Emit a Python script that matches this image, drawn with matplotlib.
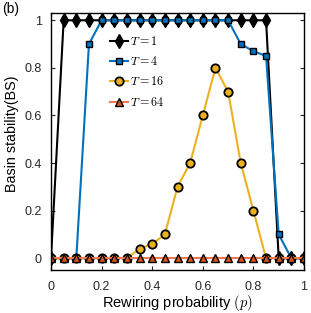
import numpy as np
import matplotlib.pyplot as plt

plt.rcParams['font.family'] = ['Liberation Sans', 'DejaVu Sans']
plt.rcParams['mathtext.fontset'] = 'cm'

# rewiring probability p = 0, 0.05, ..., 1
p = [0.0, 0.05, 0.1, 0.15, 0.2, 0.25, 0.3, 0.35, 0.4, 0.45, 0.5,
     0.55, 0.6, 0.65, 0.7, 0.75, 0.8, 0.85, 0.9, 0.95, 1.0]

bs_T1 = [0, 1, 1, 1, 1, 1, 1, 1, 1, 1, 1,
         1, 1, 1, 1, 1, 1, 1, 0, 0, 0]
bs_T4 = [0, 0, 0, 0.9, 1, 1, 1, 1, 1, 1, 1,
         1, 1, 1, 1, 0.9, 0.87, 0.85, 0.1, 0, 0]
bs_T16 = [0, 0, 0, 0, 0, 0, 0, 0.04, 0.06, 0.1, 0.3,
          0.4, 0.6, 0.8, 0.7, 0.4, 0.2, 0, 0, 0, 0]
bs_T64 = [0] * 21

labels = ['$T=1$', '$T=4$', '$T=16$', '$T=64$']
ticks = [0, 0.2, 0.4, 0.6, 0.8, 1]
tick_labels = ['0', '0.2', '0.4', '0.6', '0.8', '1']

fig = plt.figure(figsize=(3.11, 3.13), dpi=100)
ax = fig.add_axes([0.164, 0.137, 0.8135, 0.821])

ax.plot(p, bs_T1, '-d', color='black', mfc='black', mec='black',
        lw=1.5, ms=7.5, mew=1.0, label=labels[0])
ax.plot(p, bs_T4, '-s', color='#0072BD', mfc='#0072BD', mec='black',
        lw=1.5, ms=5, mew=1.0, label=labels[1])
ax.plot(p, bs_T16, '-o', color='#EDB120', mfc='#EDB120', mec='black',
        lw=1.5, ms=6, mew=1.3, label=labels[2])
ax.plot(p, bs_T64, '-^', color='#F07850', mfc='#D95319', mec='black',
        lw=1.5, ms=6, mew=1.0, label=labels[3])

ax.set_xlim(0, 1)
ax.set_ylim(-0.05, 1.03)
ax.set_xticks(ticks)
ax.set_xticklabels(tick_labels)
ax.set_yticks(ticks)
ax.set_yticklabels(tick_labels)
ax.tick_params(direction='in', top=True, right=True, labelsize=9, length=3,
               colors='#262626', labelcolor='#262626')
ax.tick_params(axis='x', pad=7.5)
ax.tick_params(axis='y', pad=6.5)
for s in ax.spines.values():
    s.set_linewidth(1.0)

ax.set_xlabel('Rewiring probability $(p)$', fontsize=10.5, va='top')
ax.set_ylabel('Basin stability(BS)', fontsize=10.3)
ax.xaxis.set_label_coords(0.5, -0.088)
ax.yaxis.set_label_coords(-0.125, 0.53)

leg = ax.legend(loc='upper left', bbox_to_anchor=(0.233, 0.915), frameon=False,
                fontsize=8.7, handlelength=1.5, labelspacing=0.6,
                handletextpad=0.15, borderaxespad=0, borderpad=0)

fig.text(0.006, 0.958, '(b)', fontsize=10)

fig.savefig('out.png', dpi=100)
